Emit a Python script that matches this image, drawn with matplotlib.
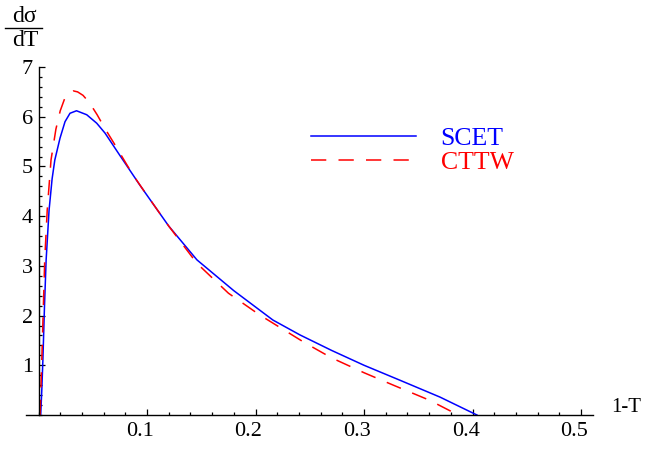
import matplotlib
matplotlib.use("Agg")
import matplotlib.pyplot as plt
import matplotlib.transforms as mtransforms
from matplotlib.lines import Line2D
from matplotlib.ticker import MultipleLocator, FixedLocator

plt.rcParams['font.family'] = ['Liberation Serif', 'DejaVu Serif']

# SCET curve
x_scet = [0.002, 0.003, 0.004, 0.0055, 0.007, 0.0097, 0.0125, 0.015, 0.0198, 0.0244,
          0.029, 0.035, 0.0444, 0.0536, 0.0613, 0.075, 0.0935, 0.12, 0.146, 0.18,
          0.216, 0.241, 0.27, 0.30, 0.333, 0.37, 0.404]
y_scet = [0.0, 0.5, 1.1, 2.2, 3.12, 4.12, 4.75, 5.13, 5.57, 5.9,
          6.07, 6.12, 6.04, 5.87, 5.67, 5.22, 4.62, 3.8, 3.12, 2.5,
          1.91, 1.61, 1.30, 1.0, 0.70, 0.36, 0.0]

# CTTW curve
x_cttw = [0.0014, 0.003, 0.0057, 0.008, 0.0115, 0.016, 0.02, 0.024, 0.028, 0.032,
          0.036, 0.041, 0.047, 0.054, 0.061, 0.07, 0.087, 0.10, 0.12, 0.146,
          0.175, 0.204, 0.2456, 0.27, 0.30, 0.327, 0.36, 0.385]
y_cttw = [0.0, 1.1, 3.12, 4.12, 5.13, 5.75, 6.12, 6.36, 6.48, 6.52,
          6.5, 6.43, 6.28, 6.04, 5.77, 5.45, 4.83, 4.42, 3.8, 3.05,
          2.45, 2.01, 1.45, 1.15, 0.85, 0.60, 0.30, 0.02]

x_ticks = [0.1, 0.2, 0.3, 0.4, 0.5]
x_tick_labels = ['0.1', '0.2', '0.3', '0.4', '0.5']
y_ticks = [1, 2, 3, 4, 5, 6, 7]

fig = plt.figure(figsize=(6.46, 4.51), dpi=100)
ax = fig.add_axes([0.0395, 0.0721, 0.918 - 0.0395, 0.8514 - 0.0721])

ax.plot(x_scet, y_scet, color=(0, 0, 1), lw=1.1, label='SCET')
ax.plot(x_cttw, y_cttw, color=(1, 0, 0), lw=1.1, dashes=(10, 8), label='CTTW')

ax.set_xlim(-0.012, 0.511)
ax.set_ylim(-0.07, 7.0)

for s in ['top', 'right']:
    ax.spines[s].set_visible(False)
ax.spines['left'].set_position(('data', 0))
ax.spines['left'].set_bounds(0, 7)
ax.spines['bottom'].set_position(('data', 0))
ax.spines['left'].set_linewidth(1.0)
ax.spines['bottom'].set_linewidth(1.0)

ax.xaxis.set_major_locator(FixedLocator(x_ticks))
ax.set_xticklabels(x_tick_labels)
ax.xaxis.set_minor_locator(MultipleLocator(0.02))
ax.yaxis.set_major_locator(FixedLocator(y_ticks))
ax.yaxis.set_minor_locator(MultipleLocator(0.2))

ax.tick_params(which='both', direction='in', labelsize=16, width=0.9)
ax.tick_params(which='major', length=4.5)
ax.tick_params(which='minor', length=2.5)
ax.tick_params(axis='x', which='major', pad=5)
ax.tick_params(axis='y', which='major', pad=4)

# x labels sit a little left of their ticks in the original
shift = mtransforms.ScaledTranslation(-7 / 100, 0, fig.dpi_scale_trans)
for lbl in ax.get_xticklabels():
    lbl.set_transform(lbl.get_transform() + shift)

ax.text(0.528, -0.05, '1-T', fontsize=15, ha='left', va='bottom')

# fraction y label dσ/dT
fig.text(24.5 / 646, 1 - 16 / 451, 'dσ', fontsize=17, ha='center', va='center')
fig.text(25.5 / 646, 1 - 41 / 451, 'dT', fontsize=17, ha='center', va='center')
fig.add_artist(Line2D([5 / 646, 42 / 646], [1 - 28 / 451, 1 - 28 / 451],
                      color='black', lw=1.0))

leg = ax.legend(loc='upper left', bbox_to_anchor=(0.48, 0.866), frameon=False,
                fontsize=18.5, handlelength=4.1, handletextpad=0.95,
                labelspacing=0.05, borderpad=0)
for txt, ln in zip(leg.get_texts(), leg.get_lines()):
    txt.set_color(ln.get_color())

fig.savefig('out.png', dpi=100)
